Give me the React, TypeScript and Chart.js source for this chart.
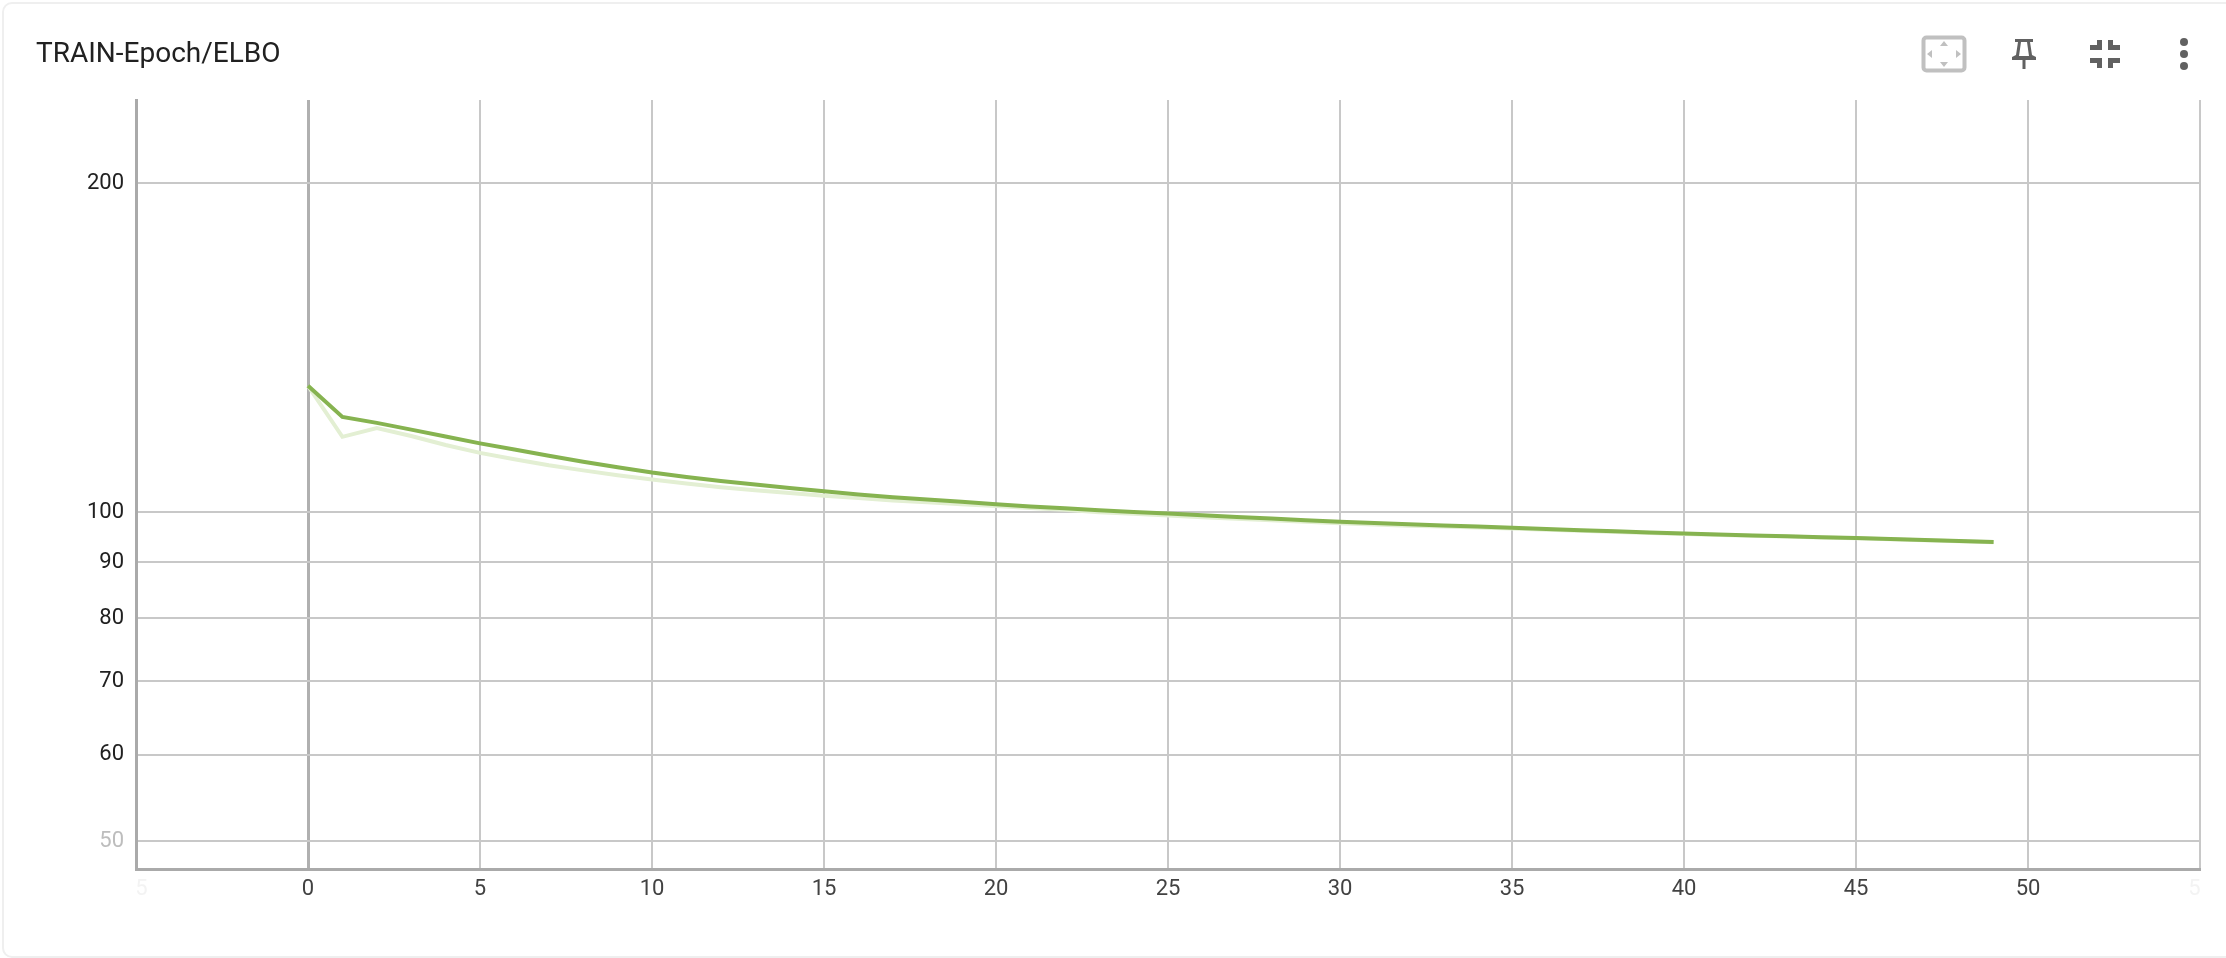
import React, { useEffect, useRef } from "react";
import { Chart, registerables } from "chart.js";

Chart.register(...registerables);

const chartTitle = "TRAIN-Epoch/ELBO";
const smoothed = [130.5,122.2,120.7,119.0,117.3,115.6,114.1,112.6,111.2,109.9,108.7,107.7,106.8,106.0,105.2,104.5,103.8,103.2,102.7,102.2,101.7,101.2,100.8,100.4,100.05,99.7,99.35,99.0,98.65,98.3,98.0,97.75,97.5,97.25,97.0,96.75,96.5,96.25,96.05,95.8,95.6,95.4,95.2,95.05,94.85,94.7,94.5,94.3,94.1,93.9];
const raw = [130.5,117.2,119.4,117.4,115.2,113.3,111.8,110.4,109.2,108.1,107.1,106.2,105.4,104.7,104.1,103.5,103.0,102.5,102.1,101.7,101.3,100.9,100.5,100.0,99.65,99.3,98.95,98.6,98.3,98.0,97.7,97.45,97.2,97.0,96.8,96.6,96.35,96.15,95.9,95.7,95.5,95.3,95.15,95.0,94.8,94.65,94.45,94.25,94.05,93.85];
const xTicks = [-5,0,5,10,15,20,25,30,35,40,45,50,55];
const yTicks = [200,100,90,80,70,60,50];

const toPoints = (values: number[]) => values.map((y, x) => ({ x, y }));

export default function App() {
  const ref = useRef<HTMLCanvasElement | null>(null);

  useEffect(() => {
    document.body.style.margin = "0";
    document.body.style.background = "#fff";
    const chart = new Chart(ref.current as HTMLCanvasElement, {
      type: "line",
      data: {
        datasets: [
          { label: "smoothed", data: toPoints(smoothed), borderColor: "#86b350", borderWidth: 4, pointRadius: 0, tension: 0, order: 1 },
          { label: "raw", data: toPoints(raw), borderColor: "#e3efd3", borderWidth: 4, pointRadius: 0, tension: 0, order: 2 },
        ],
      },
      options: {
        animation: false,
        responsive: false,
        layout: { padding: { left: 36, right: 26, top: 0, bottom: 0 } },
        plugins: {
          legend: { display: false },
          tooltip: { enabled: false },
          title: {
            display: true,
            text: chartTitle,
            align: "start",
            color: "#212121",
            font: { family: "Roboto", size: 28, weight: "400", lineHeight: 1.2 },
            padding: { top: 38, bottom: 28.4 },
          },
        },
        scales: {
          x: {
            type: "linear",
            min: -5,
            max: 55,
            afterBuildTicks: (s: any) => { s.ticks = xTicks.map((value) => ({ value })); },
            afterFit: (s: any) => { s.height = 89; },
            border: { display: true, color: "#aaaaaa", width: 3 },
            grid: {
              drawTicks: false,
              color: (c: any) => (c.tick && c.tick.value === 0 ? "#b0b0b0" : "#c8c8c8"),
              lineWidth: (c: any) => (c.tick && c.tick.value === 0 ? 3 : 2),
            },
            ticks: {
              autoSkip: false,
              maxRotation: 0,
              padding: 7,
              font: { family: "Roboto", size: 22 },
              color: (c: any) => (c.tick.value === -5 || c.tick.value === 55 ? "#f3f3f3" : "#424242"),
              callback: (v: any) => (v === -5 ? "  5" : v === 55 ? "5  " : String(v)),
            },
          },
          y: {
            type: "logarithmic",
            min: 47.15,
            max: 238.3,
            afterBuildTicks: (s: any) => { s.ticks = yTicks.map((value) => ({ value })); },
            afterFit: (s: any) => { s.width = 100; },
            border: { display: true, color: "#aaaaaa", width: 3 },
            grid: { drawTicks: false, color: "#c8c8c8", lineWidth: 2 },
            ticks: {
              autoSkip: false,
              padding: 12,
              font: { family: "Roboto", size: 22 },
              color: (c: any) => (c.tick.value === 50 ? "#bdbdbd" : "#212121"),
              callback: (v: any) => String(v),
            },
          },
        },
      },
    } as any);
    return () => chart.destroy();
  }, []);

  return (
    <div style={{ position: "relative", width: 2226, height: 958, overflow: "hidden", background: "#fff" }}>
      <div style={{ position: "absolute", left: 2, top: 2, width: 2400, height: 956, border: "2px solid #efefef", borderRadius: 10, boxSizing: "border-box" }} />
      <canvas ref={ref} width={2226} height={958} style={{ position: "absolute", left: 0, top: 0, display: "block" }} />
      <svg width={346} height={100} viewBox="1880 0 346 100" style={{ position: "absolute", left: 1880, top: 0 }}>
        <rect x={1923.5} y={37.5} width={41} height={33} rx={3} fill="none" stroke="#c0c0c0" strokeWidth={4} />
        <path d="M1944 41l4 5h-8zM1944 67l4-5h-8zM1927 54l5-4v8zM1961 54l-5-4v8z" fill="#c0c0c0" />
        <path d="M2015 39h18v3h-3l2 13 4 2v3h-10.5v9h-3v-9H2012v-3l4-2 2-13h-3z M2021 42l-2 14h10l-2-14z" fill="#616161" fillRule="evenodd" />
        <path d="M2090 45h7v-5h5v10h-12zM2108 40h5v5h7v5h-12zM2090 58h12v10h-5v-5h-7zM2108 58h12v5h-7v5h-5z" fill="#616161" />
        <circle cx={2184} cy={42} r={4} fill="#616161" />
        <circle cx={2184} cy={54} r={4} fill="#616161" />
        <circle cx={2184} cy={66} r={4} fill="#616161" />
      </svg>
    </div>
  );
}
